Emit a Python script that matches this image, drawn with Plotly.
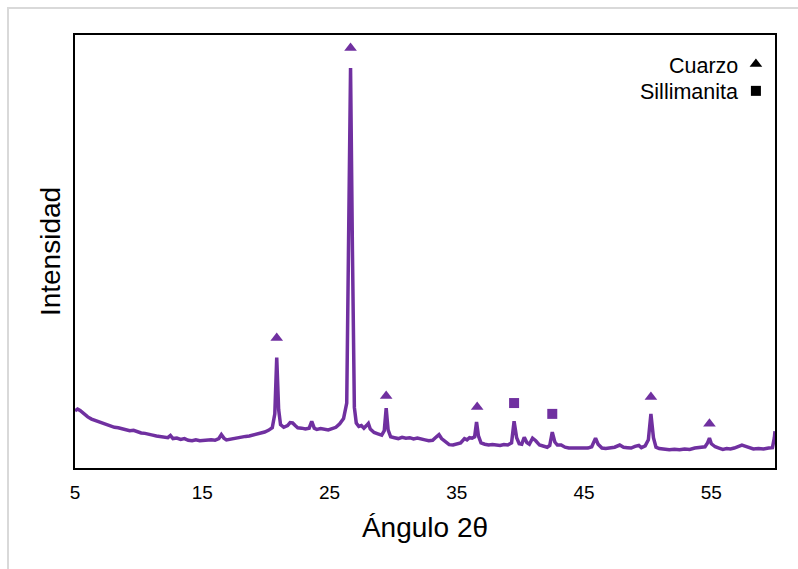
import plotly.graph_objects as go

angle = [5.0, 5.2, 5.4, 5.6, 5.8, 6.0, 6.3, 6.6, 6.9, 7.2,
         7.5, 7.8, 8.1, 8.4, 8.7, 9.0, 9.3, 9.6, 9.9, 10.2,
         10.5, 10.8, 11.1, 11.4, 11.7, 12.0, 12.3, 12.5, 12.7, 13.0,
         13.3, 13.6, 13.9, 14.2, 14.5, 14.8, 15.1, 15.4, 15.7, 16.0,
         16.3, 16.5, 16.7, 16.9, 17.2, 17.5, 17.8, 18.1, 18.4, 18.7,
         19.0, 19.3, 19.6, 19.9, 20.2, 20.5, 20.7, 20.85, 21.0, 21.15,
         21.4, 21.7, 21.9, 22.1, 22.3, 22.5, 22.8, 23.1, 23.4, 23.6,
         23.8, 24.0, 24.3, 24.6, 24.9, 25.2, 25.5, 25.8, 26.1, 26.35,
         26.5, 26.65, 26.8, 26.95, 27.1, 27.3, 27.5, 27.7, 27.9, 28.05,
         28.2, 28.5, 28.8, 29.1, 29.3, 29.45, 29.6, 29.8, 30.1, 30.4,
         30.7, 31.0, 31.3, 31.6, 31.9, 32.2, 32.5, 32.8, 33.1, 33.4,
         33.6, 33.8, 34.1, 34.4, 34.7, 35.0, 35.3, 35.6, 35.8, 36.0,
         36.2, 36.4, 36.55, 36.7, 36.9, 37.2, 37.5, 37.8, 38.1, 38.4,
         38.7, 39.0, 39.3, 39.5, 39.7, 39.9, 40.1, 40.3, 40.5, 40.7,
         40.95, 41.2, 41.5, 41.8, 42.1, 42.3, 42.5, 42.7, 42.9, 43.2,
         43.5, 43.8, 44.1, 44.5, 44.9, 45.3, 45.6, 45.9, 46.1, 46.4,
         46.7, 47.0, 47.4, 47.8, 48.1, 48.4, 48.7, 49.0, 49.3, 49.5,
         49.8, 50.05, 50.25, 50.45, 50.65, 50.9, 51.3, 51.7, 52.1, 52.5,
         52.9, 53.3, 53.7, 54.1, 54.5, 54.7, 54.85, 55.0, 55.3, 55.6,
         55.9, 56.2, 56.5, 56.8, 57.1, 57.4, 57.7, 58.0, 58.3, 58.7,
         59.1, 59.5, 59.8, 59.95, 60.0]
intensity = [13.2, 13.6, 13.3, 12.8, 12.2, 11.8, 11.3, 11.0, 10.5, 10.3,
             9.9, 9.8, 9.4, 9.3, 9.0, 8.9, 8.6, 8.7, 8.3, 8.1,
             8.0, 7.7, 7.6, 7.4, 7.3, 7.1, 7.0, 7.5, 6.8, 6.9,
             6.6, 6.8, 6.4, 6.3, 6.5, 6.3, 6.4, 6.3, 6.5, 6.4,
             6.8, 7.7, 6.9, 6.5, 6.7, 6.8, 7.0, 7.1, 7.3, 7.4,
             7.6, 7.8, 8.0, 8.3, 8.7, 9.3, 12.5, 25.5, 13.5, 10.0,
             9.4, 9.8, 10.5, 10.4, 9.8, 9.3, 9.2, 9.0, 9.2, 10.8,
             9.2, 8.9, 9.1, 8.9, 8.8, 9.1, 9.4, 10.2, 11.4, 15.0,
             50.0, 92.4, 50.0, 14.0, 10.4, 9.6, 9.8, 9.2, 9.8, 10.3,
             9.0, 8.2, 7.9, 7.6, 8.6, 13.8, 8.8, 7.2, 7.0, 6.8,
             7.1, 6.9, 7.0, 6.7, 6.9, 6.6, 6.5, 6.3, 6.4, 7.2,
             7.7, 6.8, 6.0, 5.4, 5.3, 5.5, 5.8, 6.8, 6.5, 7.0,
             6.9, 7.2, 10.6, 7.4, 5.8, 5.5, 5.3, 5.4, 5.3, 5.2,
             5.4, 5.3, 5.8, 10.8, 7.0, 5.6, 5.5, 7.1, 5.9, 5.5,
             6.9, 6.3, 5.3, 5.0, 4.8, 5.2, 8.3, 6.0, 5.3, 5.3,
             4.8, 4.6, 4.6, 4.7, 4.6, 4.6, 4.9, 6.9, 5.5, 4.6,
             4.5, 4.6, 4.8, 5.3, 4.8, 4.7, 4.6, 5.0, 5.2, 4.7,
             5.1, 6.5, 12.5, 7.0, 4.8, 4.5, 4.3, 4.2, 4.3, 4.2,
             4.4, 4.3, 4.6, 4.8, 4.9, 5.8, 6.9, 5.6, 4.9, 4.6,
             4.3, 4.5, 4.4, 4.6, 4.9, 5.3, 5.0, 4.6, 4.4, 4.5,
             4.4, 4.6, 4.7, 7.0, 8.5]

quartz_x = [20.85, 26.65, 29.45, 36.6, 50.25, 54.85]
quartz_y = [30.0, 97.0, 16.6, 14.1, 16.4, 10.2]
sill_x = [39.5, 42.5]
sill_y = [15.0, 12.5]

legend_labels = ["Cuarzo", "Sillimanita"]
legend_x = [58.5, 58.5]
legend_y = [93.3, 87.1]
legend_text_y = [92.8, 86.8]

tick_vals = [5, 15, 25, 35, 45, 55]

purple = "#7030A0"
font = "Liberation Sans, Arial, sans-serif"

fig = go.Figure()
fig.add_trace(go.Scatter(x=angle, y=intensity, mode="lines",
                         line=dict(color=purple, width=3.5), hoverinfo="skip"))
fig.add_trace(go.Scatter(x=quartz_x, y=quartz_y, mode="markers",
                         marker=dict(symbol="triangle-up", size=11, color=purple)))
fig.add_trace(go.Scatter(x=sill_x, y=sill_y, mode="markers",
                         marker=dict(symbol="square", size=10, color=purple)))
fig.add_trace(go.Scatter(x=[legend_x[0]], y=[legend_y[0]], mode="markers",
                         marker=dict(symbol="triangle-up", size=11, color="black")))
fig.add_trace(go.Scatter(x=[legend_x[1]], y=[legend_y[1]], mode="markers",
                         marker=dict(symbol="square", size=10, color="black")))

for lab, ly in zip(legend_labels, legend_text_y):
    fig.add_annotation(x=57.25, y=ly, xref="x", yref="y", text=lab, showarrow=False,
                       xanchor="right", yanchor="middle",
                       font=dict(family=font, size=21.5, color="black"))

# outer light-gray chart frame
fig.add_shape(type="rect", xref="paper", yref="paper",
              x0=(8 - 75) / 700, x1=(805 - 75) / 700,
              y0=(468 - 580) / 433, y1=(468 - 8) / 433,
              line=dict(color="#d9d9d9", width=2), fillcolor="rgba(0,0,0,0)", layer="below")

fig.update_layout(
    width=798, height=569,
    margin=dict(l=75, r=23, t=35, b=101),
    paper_bgcolor="white", plot_bgcolor="white",
    showlegend=False,
    font=dict(family=font, color="black"),
)
fig.update_xaxes(range=[5, 60], tickvals=tick_vals, ticks="", showgrid=False, zeroline=False,
                 showline=True, linecolor="black", linewidth=2, mirror=True,
                 ticklabelstandoff=6,
                 tickfont=dict(size=19, family=font, color="black"),
                 title=dict(text="Ángulo 2θ", font=dict(size=28, family=font, color="black"), standoff=16))
fig.update_yaxes(range=[0, 100], showticklabels=False, ticks="", showgrid=False, zeroline=False,
                 showline=True, linecolor="black", linewidth=2, mirror=True,
                 title=dict(text="Intensidad", font=dict(size=28, family=font, color="black"), standoff=4))

fig.write_html("out.html")
